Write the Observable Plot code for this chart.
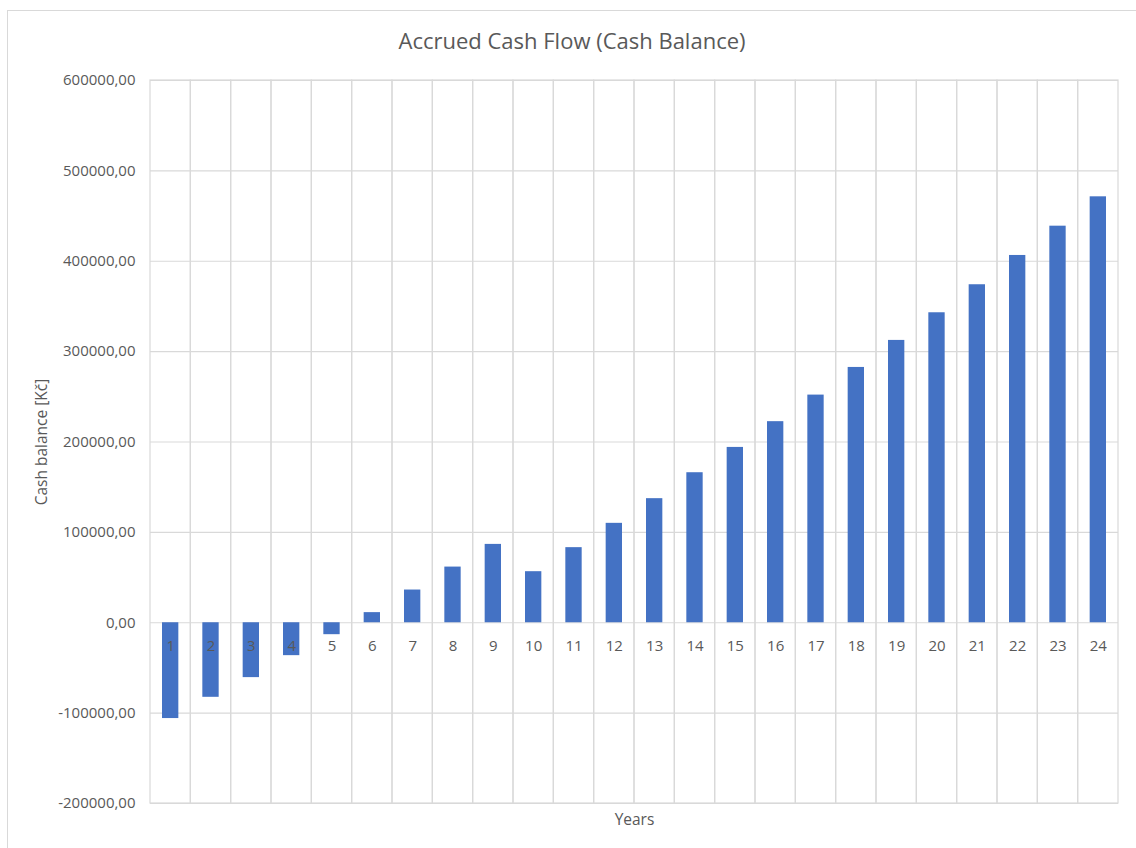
<!DOCTYPE html>
<html>
<head>
<meta charset="utf-8">
<script src="https://cdn.jsdelivr.net/npm/d3@7"></script>
<script src="https://cdn.jsdelivr.net/npm/@observablehq/plot@0.6"></script>
<style>
  html, body { margin: 0; padding: 0; background: #fff; }
  #wrap { position: relative; width: 1136px; height: 848px; overflow: hidden; font-family: "Open Sans", sans-serif; }
  #frame { position: absolute; left: 7px; top: 10px; width: 1140px; height: 900px; border-left: 1.5px solid #d9d9d9; border-top: 1.5px solid #d9d9d9; box-sizing: border-box; }
  #title { position: relative; height: 60px; line-height: 80px; text-align: center; font-size: 22px; color: #595959; padding-left: 8px; }
  #chart { position: relative; }
</style>
</head>
<body>
<div id="wrap">
  <div id="frame"></div>
  <div id="title">Accrued Cash Flow (Cash Balance)</div>
  <div id="chart"></div>
</div>
<script>
const years = [1,2,3,4,5,6,7,8,9,10,11,12,13,14,15,16,17,18,19,20,21,22,23,24];
const balance = [-106000, -82500, -60700, -36400, -13200, 11200, 36200, 61600, 86700, 56500, 83100, 110000,
                 137300, 166000, 194000, 222500, 251900, 282500, 312400, 343000, 374000, 406400, 438800, 471300];
const yTicks = [-200000, -100000, 0, 100000, 200000, 300000, 400000, 500000, 600000];
const yLabel = "Cash balance [Kč]";
const xLabel = "Years";

const data = years.map((y, i) => ({year: y, value: balance[i]}));
const fmt = d => d.toFixed(2).replace(".", ",");

const chart = Plot.plot({
  width: 1136,
  height: 788,
  marginTop: 20,
  marginBottom: 45,
  marginLeft: 150,
  marginRight: 18,
  style: {fontFamily: "'Open Sans', sans-serif", fontSize: "15px", color: "#595959", background: "transparent"},
  x: {type: "band", domain: years, padding: 0, round: false, axis: null},
  y: {domain: [yTicks[0], yTicks[yTicks.length - 1]]},
  marks: [
    Plot.barY(years, {x: d => d, y1: yTicks[0], y2: yTicks[yTicks.length - 1], fill: "none", stroke: "#d9d9d9", strokeWidth: 1.2}),
    Plot.ruleY(yTicks, {stroke: "#d9d9d9", strokeWidth: 1.2}),
    Plot.barY(data, {x: "year", y: "value", fill: "#4472c4", insetLeft: 12, insetRight: 12}),
    Plot.axisY({ticks: yTicks, tickSize: 0, tickPadding: 15, tickFormat: fmt, label: null, fontSize: 15}),
    Plot.text([yLabel], {frameAnchor: "left", text: d => d, rotate: -90, dx: -108, textAnchor: "middle", fill: "#595959", fontSize: 15.5}),
    Plot.text(data, {x: "year", y: 0, text: d => String(d.year), dy: 23, fill: "#595959", fontSize: 15}),
    Plot.text([xLabel], {frameAnchor: "bottom", text: d => d, dy: 21, fill: "#595959", fontSize: 15.5})
  ]
});
document.getElementById("chart").appendChild(chart);
</script>
</body>
</html>
